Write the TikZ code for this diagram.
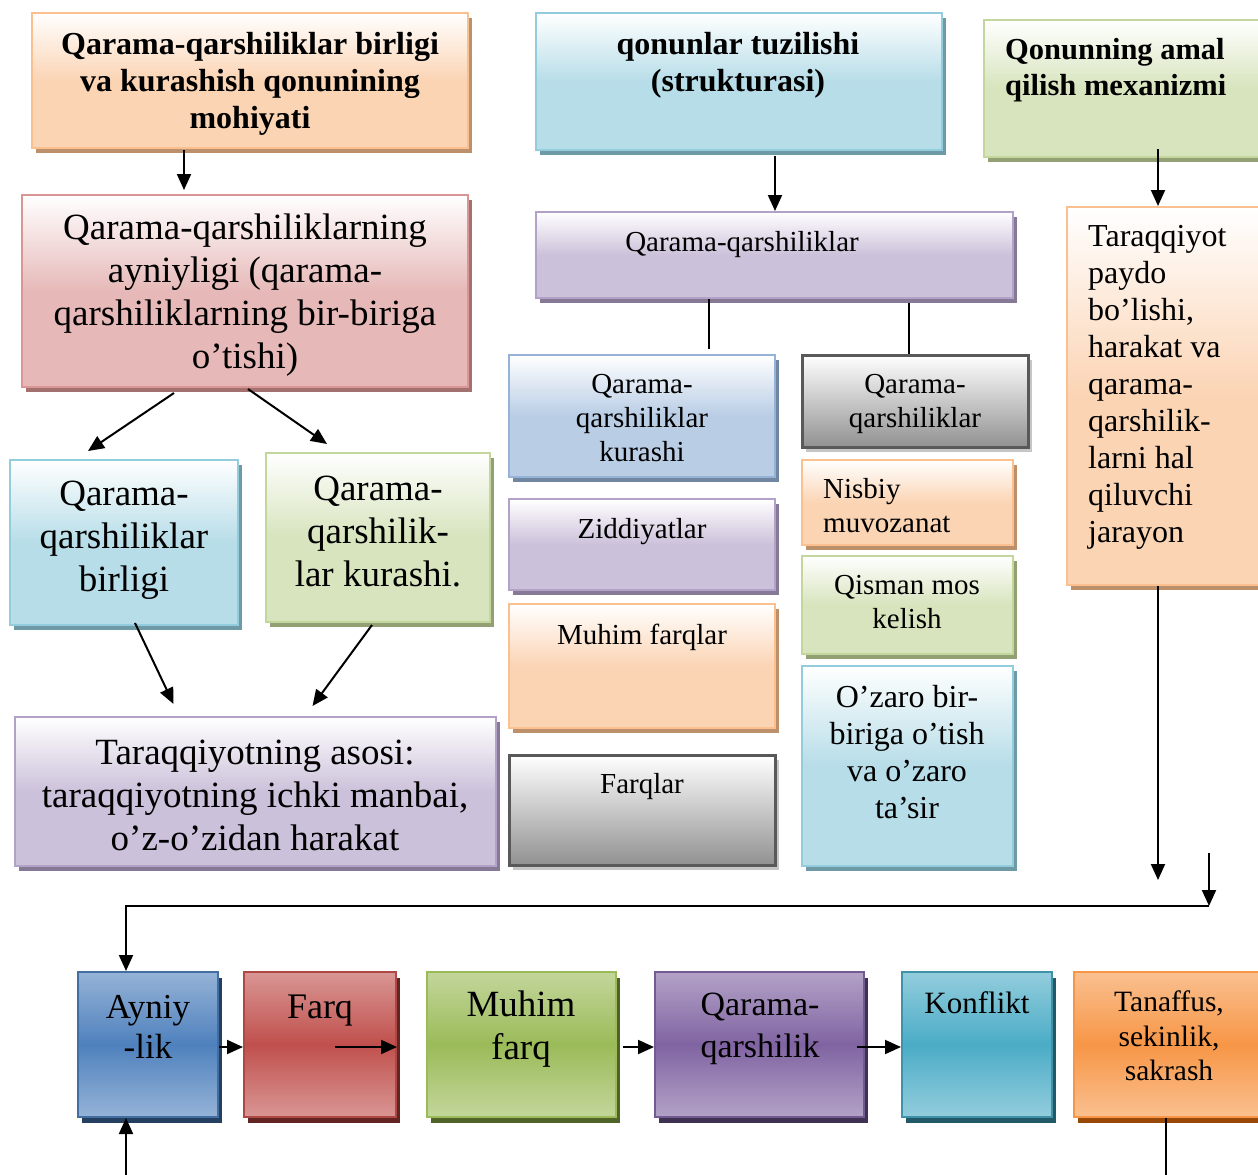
\documentclass[tikz,border=0pt]{standalone}
\usepackage{fontspec}
\setmainfont{Liberation Serif}
\usetikzlibrary{arrows.meta,shadows}

\definecolor{orB}{HTML}{FAC08F}\definecolor{orF}{HTML}{FBD4B4}
\definecolor{rdB}{HTML}{D99694}\definecolor{rdF}{HTML}{E6B9B8}
\definecolor{aqB}{HTML}{93CDDD}\definecolor{aqF}{HTML}{B7DDE8}
\definecolor{grB}{HTML}{C3D69B}\definecolor{grF}{HTML}{D7E4BD}
\definecolor{puB}{HTML}{B3A2C7}\definecolor{puF}{HTML}{CCC1DA}
\definecolor{stB}{HTML}{95B3D7}\definecolor{stF}{HTML}{B9CDE5}
\definecolor{gyB}{HTML}{595959}\definecolor{gyF}{HTML}{858585}
\definecolor{blueL}{HTML}{95B3D7}\definecolor{blueM}{HTML}{4F81BD}\definecolor{blueS}{HTML}{243F60}
\definecolor{redL}{HTML}{D99694}\definecolor{redM}{HTML}{C0504D}\definecolor{redS}{HTML}{632523}
\definecolor{greenL}{HTML}{C3D69B}\definecolor{greenM}{HTML}{9BBB59}\definecolor{greenS}{HTML}{4F6228}
\definecolor{purpleL}{HTML}{B3A2C7}\definecolor{purpleM}{HTML}{8064A2}\definecolor{purpleS}{HTML}{3F3151}
\definecolor{aquaL}{HTML}{93CDDD}\definecolor{aquaM}{HTML}{4BACC6}\definecolor{aquaS}{HTML}{215968}
\definecolor{orangeL}{HTML}{FAC090}\definecolor{orangeM}{HTML}{F79646}\definecolor{orangeS}{HTML}{984807}

\begin{document}
\begin{tikzpicture}[x=1pt, y=-1pt, every node/.style={inner sep=0pt},
    softbox/.style n args={3}{draw=#1, line width=2pt, top color=white, bottom color=#2, middle color=#2,
        drop shadow={shadow xshift=4pt, shadow yshift=-5pt, fill=#3, opacity=1}},
    strongbox/.style n args={4}{draw=#1, line width=2pt, top color=#2, bottom color=#2, middle color=#3,
        drop shadow={shadow xshift=4pt, shadow yshift=-6pt, fill=#4, opacity=1}},
    orangebox/.style={softbox={orB}{orF}{orB!75!black}},
    redbox/.style={softbox={rdB}{rdF}{rdB!75!black}},
    aquabox/.style={softbox={aqB}{aqF}{aqB!75!black}},
    greenbox/.style={softbox={grB}{grF}{grB!75!black}},
    purplebox/.style={softbox={puB}{puF}{puB!75!black}},
    steelbox/.style={softbox={stB}{stF}{stB!75!black}},
    graybox/.style={draw=gyB, line width=3pt, top color=white, bottom color=gyF!90,
        drop shadow={shadow xshift=4pt, shadow yshift=-5pt, fill=gray!45, opacity=1}},
    boxsize/.style 2 args={minimum width=#1, minimum height=#2},
    head/.style={font=\bfseries\fontsize{32}{37}\selectfont, align=center},
    big/.style={font=\fontsize{37}{43}\selectfont, align=center},
    mid/.style={font=\fontsize{29}{34}\selectfont, align=center},
    arr/.style={line width=2pt, -{Triangle[length=16pt,width=14pt]}},
    link/.style={line width=2pt}]

\useasboundingbox (0,0) rectangle (1258,1175);
\clip (0,0) rectangle (1258,1175);

% left column
\node[orangebox, boxsize={436}{135}] (mohiyat) at (250,80.5) {};
\node[head] (mohiyat-t) at (250,84) {Qarama-qarshiliklar birligi\\va kurashish qonunining\\mohiyati};
\node[redbox, boxsize={446}{192}] (ayniyat) at (245,291) {};
\node[big] (ayniyat-t) at (245,295) {Qarama-qarshiliklarning\\ayniyligi (qarama-\\qarshiliklarning bir-biriga\\o’tishi)};
\node[aquabox, boxsize={228}{165}] (birlik) at (124,542.5) {};
\node[big] (birlik-t) at (124,540) {Qarama-\\qarshiliklar\\birligi};
\node[greenbox, boxsize={224}{169}] (kurash) at (378,537.5) {};
\node[big] (kurash-t) at (378,532) {Qarama-\\qarshilik-\\lar kurashi.};
\node[purplebox, boxsize={481}{149}] (asos) at (255.5,791.5) {};
\node[big] (asos-t) at (255,795) {Taraqqiyotning asosi:\\taraqqiyotning ichki manbai,\\o’z-o’zidan harakat};

% middle column
\node[aquabox, boxsize={406}{137}] (tuzilish) at (739,81.5) {};
\node[head] (tuzilish-t) at (738,65) {qonunlar tuzilishi\\(strukturasi)};
\node[purplebox, boxsize={477}{86}] (qq) at (774.5,255) {};
\node[mid] (qq-t) at (742,245) {Qarama-qarshiliklar};
\node[steelbox, boxsize={266}{122}] (qqkurash) at (642,416) {};
\node[mid] (qqkurash-t) at (642,418) {Qarama-\\qarshiliklar\\kurashi};
\node[purplebox, boxsize={266}{91}] (ziddiyat) at (642,544.5) {};
\node[mid] (ziddiyat-t) at (642,532) {Ziddiyatlar};
\node[orangebox, boxsize={266}{124}] (muhim) at (642,666) {};
\node[mid] (muhim-t) at (642,637) {Muhim farqlar};
\node[graybox, boxsize={266}{110}] (farqlar) at (642,810) {};
\node[mid] (farqlar-t) at (642,787) {Farqlar};
\node[graybox, boxsize={226}{92}] (qqtur) at (915,401) {};
\node[mid] (qqtur-t) at (915,404) {Qarama-\\qarshiliklar};
\node[orangebox, boxsize={211}{85}] (nisbiy) at (907.5,502.5) {};
\node[mid, align=left, anchor=west] (nisbiy-t) at (823,506) {Nisbiy\\muvozanat};
\node[greenbox, boxsize={211}{98}] (qisman) at (907.5,605) {};
\node[mid] (qisman-t) at (907,602) {Qisman mos\\kelish};
\node[aquabox, boxsize={211}{200}] (ozaro) at (907.5,766) {};
\node[font=\fontsize{32}{37}\selectfont, align=center] (ozaro-t) at (907,752) {O’zaro bir-\\biriga o’tish\\va o’zaro\\ta’sir};

% right column
\node[greenbox, boxsize={316}{137}] (mexanizm) at (1142,88.5) {};
\node[font=\bfseries\fontsize{30.5}{36}\selectfont, align=left, anchor=west] (mexanizm-t) at (1005,70) {Qonunning amal\\qilish mexanizmi};
\node[orangebox, boxsize={223}{378}] (jarayon) at (1178.5,396) {};
\node[font=\fontsize{32}{37}\selectfont, align=left, anchor=west] (jarayon-t) at (1088,387) {Taraqqiyot\\paydo\\bo’lishi,\\harakat va\\qarama-\\qarshilik-\\larni hal\\qiluvchi\\jarayon};

% bottom row
\node[strongbox={blueM!85!black}{blueL}{blueM}{blueS}, boxsize={140}{145}] (ayniy) at (148,1044.5) {};
\node[font=\fontsize{35}{40}\selectfont, align=center] (ayniy-t) at (148,1027) {Ayniy\\-lik};
\node[strongbox={redM!90!black}{redL}{redM}{redS}, boxsize={152}{145}] (farq) at (320,1044.5) {};
\node[font=\fontsize{36}{42}\selectfont] (farq-t) at (320,1011) {Farq};
\node[strongbox={greenM}{greenL}{greenM}{greenS}, boxsize={189}{145}] (muhimf) at (521.5,1044.5) {};
\node[font=\fontsize{37}{43}\selectfont, align=center] (muhimf-t) at (521,1029) {Muhim\\farq};
\node[strongbox={purpleM!90!black}{purpleL}{purpleM}{purpleS}, boxsize={209}{145}] (qarama) at (759.5,1044.5) {};
\node[font=\fontsize{34}{42}\selectfont, align=center] (qarama-t) at (760,1029) {Qarama-\\qarshilik};
\node[strongbox={aquaM!85!black}{aquaL}{aquaM}{aquaS}, boxsize={150}{145}] (konflikt) at (977,1044.5) {};
\node[font=\fontsize{31}{36}\selectfont] (konflikt-t) at (977,1003) {Konflikt};
\node[strongbox={orangeM}{orangeL}{orangeM}{orangeS}, boxsize={196}{145}] (tanaffus) at (1172,1044.5) {};
\node[font=\fontsize{29.5}{34.5}\selectfont, align=center] (tanaffus-t) at (1169,1036) {Tanaffus,\\sekinlik,\\sakrash};

% connectors
\draw[arr] ([xshift=-66pt,yshift=-1pt]mohiyat.south) -- ([xshift=-61pt,yshift=4pt]ayniyat.north);
\draw[arr] ([xshift=-71pt,yshift=-5pt]ayniyat.south) -- ([xshift=-36pt,yshift=8pt]birlik.north);
\draw[arr] ([xshift=3pt,yshift=-1pt]ayniyat.south) -- ([xshift=-51pt,yshift=8pt]kurash.north);
\draw[arr] ([xshift=11pt,yshift=3pt]birlik.south) -- ([xshift=-82pt,yshift=12pt]asos.north);
\draw[arr] ([xshift=-6pt,yshift=-2pt]kurash.south) -- ([xshift=57pt,yshift=10pt]asos.north);
\draw[arr] ([xshift=36pt,yshift=-5pt]tuzilish.south) -- ([xshift=0.5pt]qq.north);
\draw[link] ([xshift=-65.5pt]qq.south) -- ([xshift=67pt,yshift=5pt]qqkurash.north);
\draw[link] ([xshift=134.5pt,yshift=-4pt]qq.south) -- ([xshift=-6pt]qqtur.north);
\draw[arr] ([xshift=16pt,yshift=9pt]mexanizm.south) -- ([xshift=-20.5pt]jarayon.north);

\coordinate (jarayon-end) at (1158,880);
\coordinate (drop-top) at (1209,853);
\coordinate (bend-r) at (1209,906);
\coordinate (bend-l) at (126,906);
\coordinate (bottom-in) at (126,1175);
\coordinate (bottom-out) at (1166,1175);
\draw[arr] ([xshift=-20.5pt]jarayon.south) -- (jarayon-end);
\draw[arr] (drop-top) -- (bend-r);
\draw[arr] (bend-r) -- (bend-l) -- ([xshift=-22pt]ayniy.north);
\draw[arr] (bottom-in) -- ([xshift=-22pt]ayniy.south);
\draw[link] ([xshift=-6pt]tanaffus.south) -- (bottom-out);

\draw[arr] ([yshift=-2.5pt]ayniy.east) -- ([yshift=-2.5pt]farq.west);
\draw[arr] ([xshift=15pt,yshift=-2.5pt]farq.center) -- ([yshift=-2.5pt]farq.east);
\draw[arr] ([xshift=6pt,yshift=-2.5pt]muhimf.east) -- ([yshift=-2.5pt]qarama.west);
\draw[arr] ([xshift=-8pt,yshift=-2.5pt]qarama.east) -- ([yshift=-2.5pt]konflikt.west);
\end{tikzpicture}
\end{document}
